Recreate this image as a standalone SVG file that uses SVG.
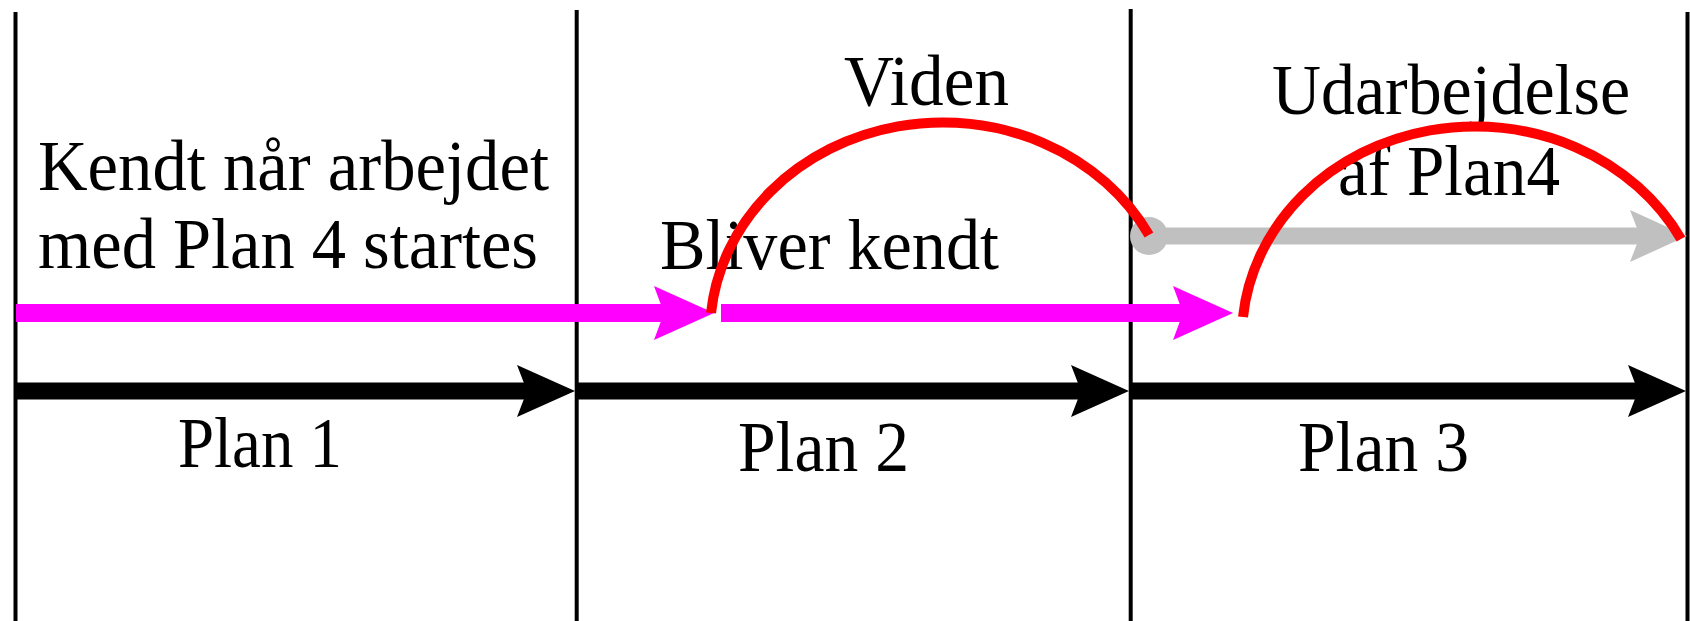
<svg xmlns="http://www.w3.org/2000/svg" width="1690" height="621" viewBox="0 0 1690 621">
<style>
.vline{stroke:#000;stroke-width:4;fill:none}
.blk{stroke:#000;stroke-width:17;fill:none}
.mag{stroke:#FF00FF;stroke-width:18;fill:none}
.gry{stroke:#C0C0C0;stroke-width:17;fill:none}
.arc{stroke:#FF0000;stroke-width:10;fill:none;stroke-linecap:butt}
text{font-family:"Liberation Serif","Times New Roman",serif;font-size:72px;fill:#000}
</style>
<defs>
<marker id="mb" markerUnits="userSpaceOnUse" viewBox="-12 -28 62 56" refX="0" refY="0" markerWidth="62" markerHeight="56" orient="auto" overflow="visible"><path d="M-10,-26 L48,0 L-10,26 L0,0 Z" fill="#000"/></marker>
<marker id="mm" markerUnits="userSpaceOnUse" viewBox="-12 -28 62 56" refX="0" refY="0" markerWidth="62" markerHeight="56" orient="auto" overflow="visible"><path d="M-10,-27 L50,0 L-10,27 L0,0 Z" fill="#FF00FF"/></marker>
<marker id="mg" markerUnits="userSpaceOnUse" viewBox="-12 -28 62 56" refX="0" refY="0" markerWidth="62" markerHeight="56" orient="auto" overflow="visible"><path d="M-10,-26 L47,0 L-10,26 L0,0 Z" fill="#C0C0C0"/></marker>
</defs>
<g id="grid">
<line class="vline" x1="15.5" y1="12" x2="15.5" y2="621"/>
<line class="vline" x1="576.7" y1="10" x2="576.7" y2="621"/>
<line class="vline" x1="1130.7" y1="9" x2="1130.7" y2="621"/>
<line class="vline" x1="1687.5" y1="12" x2="1687.5" y2="621"/>
</g>
<g id="labels">
<text x="38" y="190" textLength="511" lengthAdjust="spacingAndGlyphs">Kendt når arbejdet</text>
<text x="38" y="268" textLength="500" lengthAdjust="spacingAndGlyphs">med Plan 4 startes</text>
<text x="844" y="105" textLength="165" lengthAdjust="spacingAndGlyphs">Viden</text>
<text x="660" y="269" textLength="339" lengthAdjust="spacingAndGlyphs">Bliver kendt</text>
<text x="1272" y="114" textLength="358" lengthAdjust="spacingAndGlyphs">Udarbejdelse</text>
<text x="1338" y="195" textLength="222" lengthAdjust="spacingAndGlyphs">af Plan4</text>
<text x="178" y="467" textLength="164" lengthAdjust="spacingAndGlyphs">Plan 1</text>
<text x="738" y="471" textLength="171" lengthAdjust="spacingAndGlyphs">Plan 2</text>
<text x="1298" y="471" textLength="171" lengthAdjust="spacingAndGlyphs">Plan 3</text>
</g>
<g id="connectors">
<line class="blk" x1="16" y1="391" x2="527" y2="391" marker-end="url(#mb)"/>
<line class="blk" x1="578" y1="391" x2="1081" y2="391" marker-end="url(#mb)"/>
<line class="blk" x1="1131" y1="391" x2="1638" y2="391" marker-end="url(#mb)"/>
<line class="mag" x1="16" y1="313" x2="664" y2="313" marker-end="url(#mm)"/>
<line class="mag" x1="721" y1="313" x2="1183" y2="313" marker-end="url(#mm)"/>
<circle cx="1149" cy="236" r="19" fill="#C0C0C0"/>
<line class="gry" x1="1149" y1="236" x2="1640" y2="236" marker-end="url(#mg)"/>
<path class="arc" d="M711,313 A233,211 0 0 1 1149,235"/>
<path class="arc" d="M1243,317 A233,211 0 0 1 1681,239"/>
</g>
</svg>
